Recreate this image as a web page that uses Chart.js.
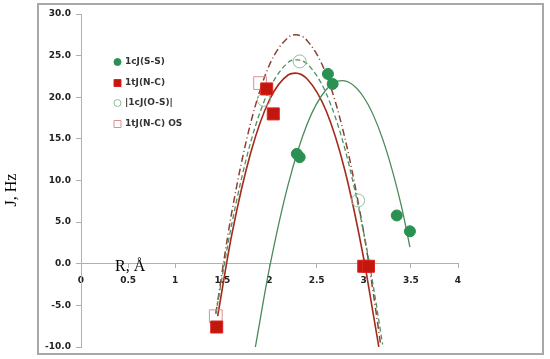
<!DOCTYPE html>
<html>
<head>
<meta charset="utf-8">
<script src="https://cdn.jsdelivr.net/npm/chart.js@4/dist/chart.umd.min.js"></script>
<style>
  html, body { margin: 0; padding: 0; background: #fff; }
</style>
</head>
<body>
<canvas id="mycanvas" width="550" height="359"></canvas>
<script>
// measured points
var ssR = [2.29, 2.32, 2.62, 2.67, 3.35, 3.49];
var ssJ = [13.2, 12.8, 22.8, 21.6, 5.8, 3.9];
var ncR = [1.44, 1.97, 2.04, 3.00, 3.05];
var ncJ = [-7.6, 21.0, 18.0, -0.3, -0.3];
var osR = [1.94, 2.32, 2.94];
var osJ = [19.7, 24.3, 7.6];
var ncOsR = [1.43, 1.90];
var ncOsJ = [-6.3, 21.7];

// trend curves
var ssFitR = [1.85, 2.0, 2.2, 2.4, 2.6, 2.77, 3.0, 3.2, 3.4, 3.49];
var ssFitJ = [-10.0, -0.5, 9.6, 16.8, 20.9, 22.0, 20.0, 15.0, 6.9, 2.0];
var ncFitR = [1.45, 1.6, 1.8, 2.0, 2.2, 2.275, 2.4, 2.6, 2.8, 3.0, 3.1, 3.16];
var ncFitJ = [-6.3, 3.5, 13.3, 19.7, 22.7, 22.9, 22.2, 18.4, 11.2, 0.6, -6.0, -10.0];
var osFitR = [1.43, 1.6, 1.8, 2.0, 2.2, 2.29, 2.4, 2.6, 2.8, 3.0, 3.1, 3.2];
var osFitJ = [-6.0, 4.8, 14.6, 21.0, 24.2, 24.5, 24.0, 20.5, 13.8, 3.7, -2.6, -9.7];
var ncOsFitR = [1.43, 1.6, 1.8, 2.0, 2.2, 2.28, 2.4, 2.6, 2.8, 3.0, 3.1, 3.18];
var ncOsFitJ = [-6.0, 6.2, 16.9, 23.9, 27.2, 27.5, 26.8, 22.8, 15.1, 3.7, -3.4, -9.8];

var seriesNames = ["1cJ(S-S)", "1tJ(N-C)", "|1cJ(O-S)|", "1tJ(N-C) OS"];
var xTitle = "R, Å";
var yTitle = "J, Hz";

function pts(xs, ys) {
  var out = [];
  for (var i = 0; i < xs.length; i++) out.push({x: xs[i], y: ys[i]});
  return out;
}

var tickFont = {family: "DejaVu Sans", size: 9, weight: "bold"};

var extras = {
  id: "extras",
  beforeDraw: function(chart) {
    var c = chart.ctx;
    c.save();
    c.fillStyle = "#fff";
    c.fillRect(0, 0, chart.width, chart.height);
    c.strokeStyle = "#a8a8a8";
    c.lineWidth = 2;
    c.strokeRect(38, 4, 505, 350);
    c.restore();
  },
  afterDraw: function(chart) {
    var c = chart.ctx;
    c.save();
    // legend
    var rowY = [62, 83, 103, 124];
    c.font = "bold 9px 'DejaVu Sans'";
    c.textBaseline = "middle";
    c.fillStyle = "#333";
    for (var i = 0; i < 4; i++) {
      var ds = chart.data.datasets[i];
      var y = rowY[i];
      c.beginPath();
      if (ds.pointStyle === "rect") {
        c.rect(114, y - 3.5, 7, 7);
      } else {
        c.arc(117.5, y, 3.5, 0, Math.PI * 2);
      }
      if (ds.backgroundColor !== "transparent") {
        c.fillStyle = ds.backgroundColor;
        c.fill();
      }
      c.strokeStyle = ds.borderColor;
      c.lineWidth = 1;
      c.stroke();
      c.fillStyle = "#333";
      c.fillText(seriesNames[i], 125, y);
    }
    // axis titles
    c.fillStyle = "#000";
    c.font = "16px 'Liberation Serif'";
    c.textBaseline = "middle";
    c.textAlign = "left";
    c.fillText(xTitle, 115, 267);
    c.translate(12, 190);
    c.rotate(-Math.PI / 2);
    c.textAlign = "center";
    c.fillText(yTitle, 0, 0);
    c.restore();
  }
};

var ctx = document.getElementById("mycanvas");

var chart = new Chart(ctx, {
  type: "scatter",
  data: {
    datasets: [
      {
        label: seriesNames[0], data: pts(ssR, ssJ),
        pointStyle: "circle", pointRadius: 5.5,
        backgroundColor: "#2a9152", borderColor: "#2a9152", borderWidth: 1
      },
      {
        label: seriesNames[1], data: pts(ncR, ncJ),
        pointStyle: "rect", pointRadius: 8.5,
        backgroundColor: "#c0180c", borderColor: "#e02020", borderWidth: 1
      },
      {
        label: seriesNames[2], data: pts(osR, osJ),
        pointStyle: "circle", pointRadius: 6.5,
        backgroundColor: "transparent", borderColor: "#8fc0a0", borderWidth: 1
      },
      {
        label: seriesNames[3], data: pts(ncOsR, ncOsJ),
        pointStyle: "rect", pointRadius: 9,
        backgroundColor: "transparent", borderColor: "#d99090", borderWidth: 1
      },
      {
        label: "fit S-S", data: pts(ssFitR, ssFitJ), showLine: true,
        pointRadius: 0, borderColor: "#4a8a5a", borderWidth: 1.3,
        cubicInterpolationMode: "monotone"
      },
      {
        label: "fit N-C", data: pts(ncFitR, ncFitJ), showLine: true,
        pointRadius: 0, borderColor: "#a52a1a", borderWidth: 1.6,
        cubicInterpolationMode: "monotone"
      },
      {
        label: "fit O-S", data: pts(osFitR, osFitJ), showLine: true,
        pointRadius: 0, borderColor: "#4f8f66", borderWidth: 1.3,
        borderDash: [5, 3], cubicInterpolationMode: "monotone"
      },
      {
        label: "fit N-C OS", data: pts(ncOsFitR, ncOsFitJ), showLine: true,
        pointRadius: 0, borderColor: "#8b4030", borderWidth: 1.5,
        borderDash: [7, 3, 1, 3], cubicInterpolationMode: "monotone"
      }
    ]
  },
  options: {
    responsive: false,
    animation: false,
    devicePixelRatio: 1,
    layout: {padding: {left: 31, right: 92, top: 14, bottom: 12}},
    plugins: {legend: {display: false}, tooltip: {enabled: false}},
    scales: {
      x: {
        type: "linear", min: 0, max: 4,
        position: {y: 0},
        grid: {drawOnChartArea: false, tickLength: 4, color: "#b0b0b0"},
        border: {color: "#b0b0b0", width: 1},
        ticks: {
          stepSize: 0.5, font: tickFont, color: "#222", padding: 8, maxRotation: 0,
          callback: function(v) { return String(v); }
        }
      },
      y: {
        type: "linear", min: -10, max: 30,
        grid: {drawOnChartArea: false, tickLength: 5, color: "#b0b0b0"},
        border: {color: "#b0b0b0", width: 1},
        ticks: {
          stepSize: 5, font: tickFont, color: "#222", padding: 5,
          callback: function(v) { return v.toFixed(1); }
        },
        afterFit: function(s) { s.width = 50; }
      }
    }
  },
  plugins: [extras]
});
</script>
</body>
</html>
